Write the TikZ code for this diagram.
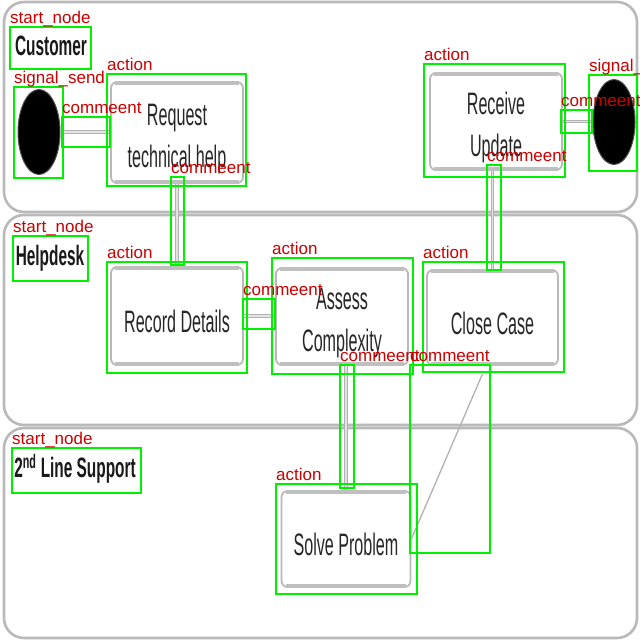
\documentclass[tikz,border=0pt]{standalone}
\usepackage{fontspec}
\setmainfont{Liberation Sans}
\newfontfamily\nar[FakeStretch=0.52]{Liberation Sans}
\newfontfamily\narb[FakeStretch=0.55]{Liberation Sans}
\usetikzlibrary{calc,shapes.geometric}
\definecolor{annog}{RGB}{0,240,0}
\definecolor{annor}{RGB}{205,0,0}
\tikzset{
  lane/.style={draw=gray!55, line width=2.6pt, rounded corners=20pt, fill=white},
  act/.style={draw=gray!55, line width=1.8pt, rounded corners=6pt, fill=white,
    text=black!85, align=center, inner sep=0pt, text height=34pt,
    font=\nar\fontsize{31}{42}\selectfont},
  acttwo/.style={act, text height=77pt},
  title/.style={text=black!90, inner sep=0pt, font=\narb\bfseries\fontsize{28}{30}\selectfont},
  sig/.style={ellipse, fill=black, draw=black!70, line width=1pt, inner sep=0pt},
  conn/.style={draw=gray!60, double=gray!22, double distance=1.1pt, line width=1.1pt},
  diag/.style={draw=gray!60, line width=1.3pt},
  rim/.style={draw=gray!50, line width=4pt},
  abox/.style={draw=annog, line width=2.4pt},
  alab/.style={text=annor, anchor=base west, inner sep=0pt, font=\fontsize{17}{17}\selectfont},
}
\begin{document}
\begin{tikzpicture}[x=1pt,y=-1pt]
\useasboundingbox (0,0) rectangle (640,640);
\fill[white] (0,0) rectangle (640,640);
% lanes
\draw[lane] (4,2) rectangle (637,212);
\draw[lane] (4,215) rectangle (637,425);
\draw[lane] (4,428) rectangle (637,638);
% titles
\node[title] (tcust) at (51,46) {Customer};
\node[title] (thelp) at (50,258) {Helpdesk};
\node[title] (tsup) at (75,469) {2\textsuperscript{nd} Line Support};
% signals
\node[sig, minimum width=42pt, minimum height=85pt] (sigL) at (39,132) {};
\node[sig, minimum width=42pt, minimum height=85pt] (sigR) at (614,122) {};
% actions
\node[acttwo, minimum width=132pt, minimum height=101pt] (req) at (177,132.5) {Request\\technical help};
\node[acttwo, minimum width=132pt, minimum height=97pt] (recv) at (496,121.5) {Receive\\Update};
\node[act, minimum width=132pt, minimum height=98pt] (rec) at (177,316) {Record Details};
\node[acttwo, minimum width=132pt, minimum height=97pt] (ass) at (342,316.5) {Assess\\Complexity};
\node[act, minimum width=131pt, minimum height=95pt] (close) at (492.5,317.5) {Close Case};
\node[act, minimum width=129pt, minimum height=96pt] (solve) at (346,539) {Solve Problem};
\foreach \n in {req,recv,rec,ass,close,solve}{
  \draw[rim] ([xshift=5pt,yshift=-2pt]\n.north west) -- ([xshift=-5pt,yshift=-2pt]\n.north east);
  \draw[rim] ([xshift=5pt,yshift=2pt]\n.south west) -- ([xshift=-5pt,yshift=2pt]\n.south east);
}
% connectors
\draw[conn] (sigL.east) -- (req.west |- sigL.east);
\draw[conn] (req.south) -- (rec.north);
\draw[conn] (rec.east) -- (ass.west |- rec.east);
\draw[conn] (ass.south -| solve.north) -- (solve.north);
\draw[diag] (solve.east) -- ([xshift=-10pt,yshift=-8pt]close.south);
\draw[conn] (close.north) -- (close.north |- recv.south);
\draw[conn] (recv.east) -- (sigR.west |- recv.east);
% annotation boxes
\draw[abox] (10,27) rectangle (91,69);
\draw[abox] (13,236) rectangle (88,281);
\draw[abox] (12,448) rectangle (141,493);
\draw[abox] (14,87) rectangle (63,178);
\draw[abox] (589,75) rectangle (637,171);
\draw[abox] (107,74) rectangle (246,186);
\draw[abox] (424,64) rectangle (565,177);
\draw[abox] (107,262) rectangle (247,373);
\draw[abox] (272,258) rectangle (413,374);
\draw[abox] (423,262) rectangle (564,372);
\draw[abox] (276,484) rectangle (417,594);
\draw[abox] (62,117) rectangle (110,147);
\draw[abox] (171,177) rectangle (184,265);
\draw[abox] (243,299) rectangle (275,329);
\draw[abox] (340,365) rectangle (354,488);
\draw[abox] (410,365) rectangle (490,553);
\draw[abox] (487,165) rectangle (501,270);
\draw[abox] (561,110) rectangle (592,133);
% annotation labels
\node[alab] (l1) at (10,23) {start\_node};
\node[alab] (l2) at (13,232) {start\_node};
\node[alab] (l3) at (12,444) {start\_node};
\node[alab] (l4) at (14,83) {signal\_send};
\node[alab] (l5) at (589,71) {signal\_};
\node[alab] (l6) at (107,70) {action};
\node[alab] (l7) at (424,60) {action};
\node[alab] (l8) at (107,258) {action};
\node[alab] (l9) at (272,254) {action};
\node[alab] (l10) at (423,258) {action};
\node[alab] (l11) at (276,480) {action};
\node[alab] (l12) at (62,113) {commeent};
\node[alab] (l13) at (171,173) {commeent};
\node[alab] (l14) at (243,295) {commeent};
\node[alab] (l15) at (340,361) {commeent};
\node[alab] (l16) at (410,361) {commeent};
\node[alab] (l17) at (487,161) {commeent};
\node[alab] (l18) at (561,106) {commeent};
\end{tikzpicture}
\end{document}
